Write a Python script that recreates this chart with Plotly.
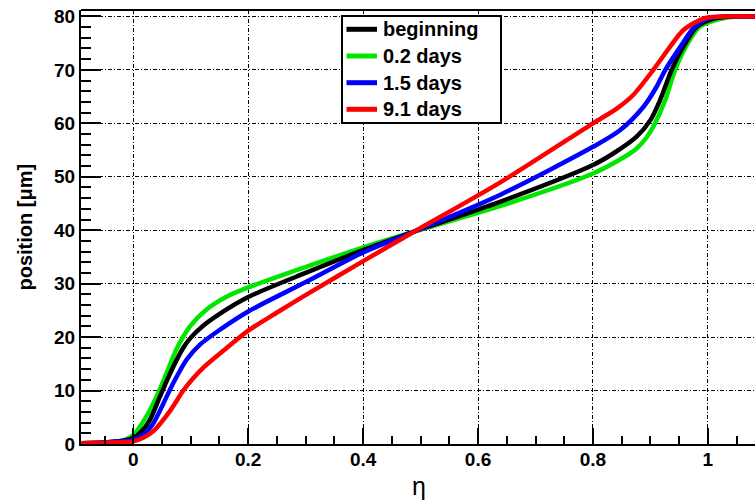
import plotly.graph_objects as go

# ---- data ----
eta_begin = [-0.09, -0.05, -0.02, 0.0, 0.015, 0.029, 0.0465, 0.064, 0.087, 0.1, 0.12, 0.151, 0.2, 0.302, 0.403, 0.49, 0.638, 0.8, 0.836, 0.876, 0.900, 0.917, 0.937, 0.957, 0.981, 1.01, 1.04, 1.082]
pos_begin = [0.15, 0.3, 0.6, 1.1, 2.4, 4.5, 8.9, 13.2, 18.0, 19.9, 22.0, 24.4, 27.5, 32.1, 36.4, 39.8, 45.3, 52.2, 54.4, 57.5, 60.6, 64.4, 70.0, 74.3, 78.1, 79.6, 80.0, 80.0]

eta_02 = [-0.09, -0.05, -0.023, 0.0, 0.023, 0.041, 0.058, 0.0755, 0.0987, 0.128, 0.163, 0.2, 0.302, 0.403, 0.49, 0.638, 0.8, 0.853, 0.875, 0.893, 0.908, 0.926, 0.943, 0.963, 0.986, 1.02, 1.05, 1.082]
pos_02 = [0.15, 0.3, 0.5, 1.7, 5.2, 9.0, 13.3, 17.8, 22.0, 25.2, 27.6, 29.3, 33.2, 36.9, 39.8, 44.5, 50.6, 53.6, 55.2, 57.3, 60.0, 64.4, 70.0, 74.6, 78.1, 79.5, 80.0, 80.0]

eta_15 = [-0.09, -0.05, -0.02, 0.0, 0.018, 0.035, 0.052, 0.0696, 0.093, 0.116, 0.151, 0.2, 0.302, 0.403, 0.49, 0.638, 0.8, 0.847, 0.888, 0.91, 0.926, 0.952, 0.975, 1.0, 1.03, 1.082]
pos_15 = [0.15, 0.3, 0.5, 0.8, 1.8, 3.9, 7.5, 11.4, 15.8, 18.6, 21.4, 24.8, 30.4, 36.0, 39.8, 46.6, 55.6, 58.7, 63.1, 66.7, 70.0, 74.3, 77.8, 79.6, 80.0, 80.0]

eta_91 = [-0.09, -0.05, -0.02, 0.0, 0.018, 0.035, 0.064, 0.087, 0.105, 0.122, 0.163, 0.2, 0.25, 0.302, 0.403, 0.49, 0.638, 0.8, 0.842, 0.870, 0.905, 0.934, 0.957, 0.986, 1.0, 1.03, 1.082]
pos_91 = [0.15, 0.25, 0.35, 0.5, 1.2, 2.4, 6.2, 10.0, 12.4, 14.3, 18.0, 21.2, 24.6, 28.0, 34.4, 39.8, 48.9, 60.0, 62.8, 65.3, 70.0, 74.3, 77.4, 79.3, 79.8, 80.0, 80.0]

series_names = ["beginning", "0.2 days", "1.5 days", "9.1 days"]
series_colors = ["#000000", "#00e600", "#0000ff", "#ff0000"]
series_x = [eta_begin, eta_02, eta_15, eta_91]
series_y = [pos_begin, pos_02, pos_15, pos_91]

x_ticks = [0, 0.2, 0.4, 0.6, 0.8, 1]
x_ticklabels = ["0", "0.2", "0.4", "0.6", "0.8", "1"]
y_ticks = [0, 10, 20, 30, 40, 50, 60, 70, 80]

FONT = "Liberation Sans, Arial, sans-serif"

# plot-area geometry (pixels) used for paper-coordinate placement of the legend
W, H = 755, 504
ML, MR, MT, MB = 81, 0, 10, 60
PW, PH = W - ML - MR, H - MT - MB


def px(x):
    return (x - ML) / PW


def py(y):
    return 1 - (y - MT) / PH


fig = go.Figure()
order = [1, 0, 2, 3]  # black drawn above green, as in the reference
for i in order:
    fig.add_trace(go.Scatter(
        x=series_x[i], y=series_y[i], mode="lines", name=series_names[i],
        line=dict(color=series_colors[i], width=4.5, shape="spline", smoothing=0.8),
        showlegend=False,
    ))

grid = dict(showgrid=True, gridcolor="#000000", gridwidth=1, griddash="4px,2px,1px,2px")

fig.update_layout(
    width=W, height=H,
    margin=dict(l=ML, r=MR, t=MT, b=MB),
    paper_bgcolor="white", plot_bgcolor="white",
    font=dict(family=FONT, color="#000000"),
    showlegend=False,
    xaxis=dict(
        range=[-0.091, 1.082], tickmode="array", tickvals=x_ticks, ticktext=x_ticklabels,
        ticks="inside", ticklen=16, tickwidth=2, tickcolor="#000000",
        showline=True, linecolor="#000000", linewidth=2, mirror=False,
        tickfont=dict(family=FONT, size=19, weight="bold", color="#000000"),
        ticklabelstandoff=-3,
        minor=dict(dtick=0.05, tick0=0, ticks="inside", ticklen=8, tickwidth=2, tickcolor="#000000", showgrid=False),
        zeroline=False, **grid,
    ),
    yaxis=dict(
        range=[0, 81.2], tickmode="array", tickvals=y_ticks,
        ticks="inside", ticklen=20, tickwidth=2, tickcolor="#000000",
        showline=True, linecolor="#000000", linewidth=2,
        tickfont=dict(family=FONT, size=19, weight="bold", color="#000000"),
        minor=dict(dtick=2, tick0=0, ticks="inside", ticklen=10, tickwidth=2, tickcolor="#000000", showgrid=False),
        zeroline=False, **grid,
    ),
)

# top frame line
fig.add_shape(type="line", xref="paper", yref="paper", x0=0, x1=1, y0=1, y1=1,
              line=dict(color="#000000", width=2))

# axis titles
fig.add_annotation(text="η", xref="paper", yref="paper", x=px(419), y=py(486),
                   xanchor="center", yanchor="middle", showarrow=False,
                   font=dict(family=FONT, size=25, color="#000000"))
fig.add_annotation(text="position [μm]", xref="paper", yref="paper", x=px(24), y=py(226.5),
                   xanchor="center", yanchor="middle", showarrow=False, textangle=-90,
                   font=dict(family=FONT, size=20, weight="bold", color="#000000"))

# legend box (drawn like the reference's boxed legend)
fig.add_shape(type="rect", xref="paper", yref="paper", x0=px(342), x1=px(501), y0=py(16), y1=py(123),
              line=dict(color="#000000", width=2), fillcolor="white", layer="above")
leg_y = [29.3, 56.0, 82.7, 109.3]
for name, color, ly in zip(series_names, series_colors, leg_y):
    fig.add_shape(type="line", xref="paper", yref="paper", x0=px(346.5), x1=px(377), y0=py(ly), y1=py(ly),
                  line=dict(color=color, width=5), layer="above")
    fig.add_annotation(text=name, xref="paper", yref="paper", x=px(381), y=py(ly),
                       xanchor="left", yanchor="middle", showarrow=False,
                       font=dict(family=FONT, size=20, weight="bold", color="#000000"))

fig.write_html("out.html")
